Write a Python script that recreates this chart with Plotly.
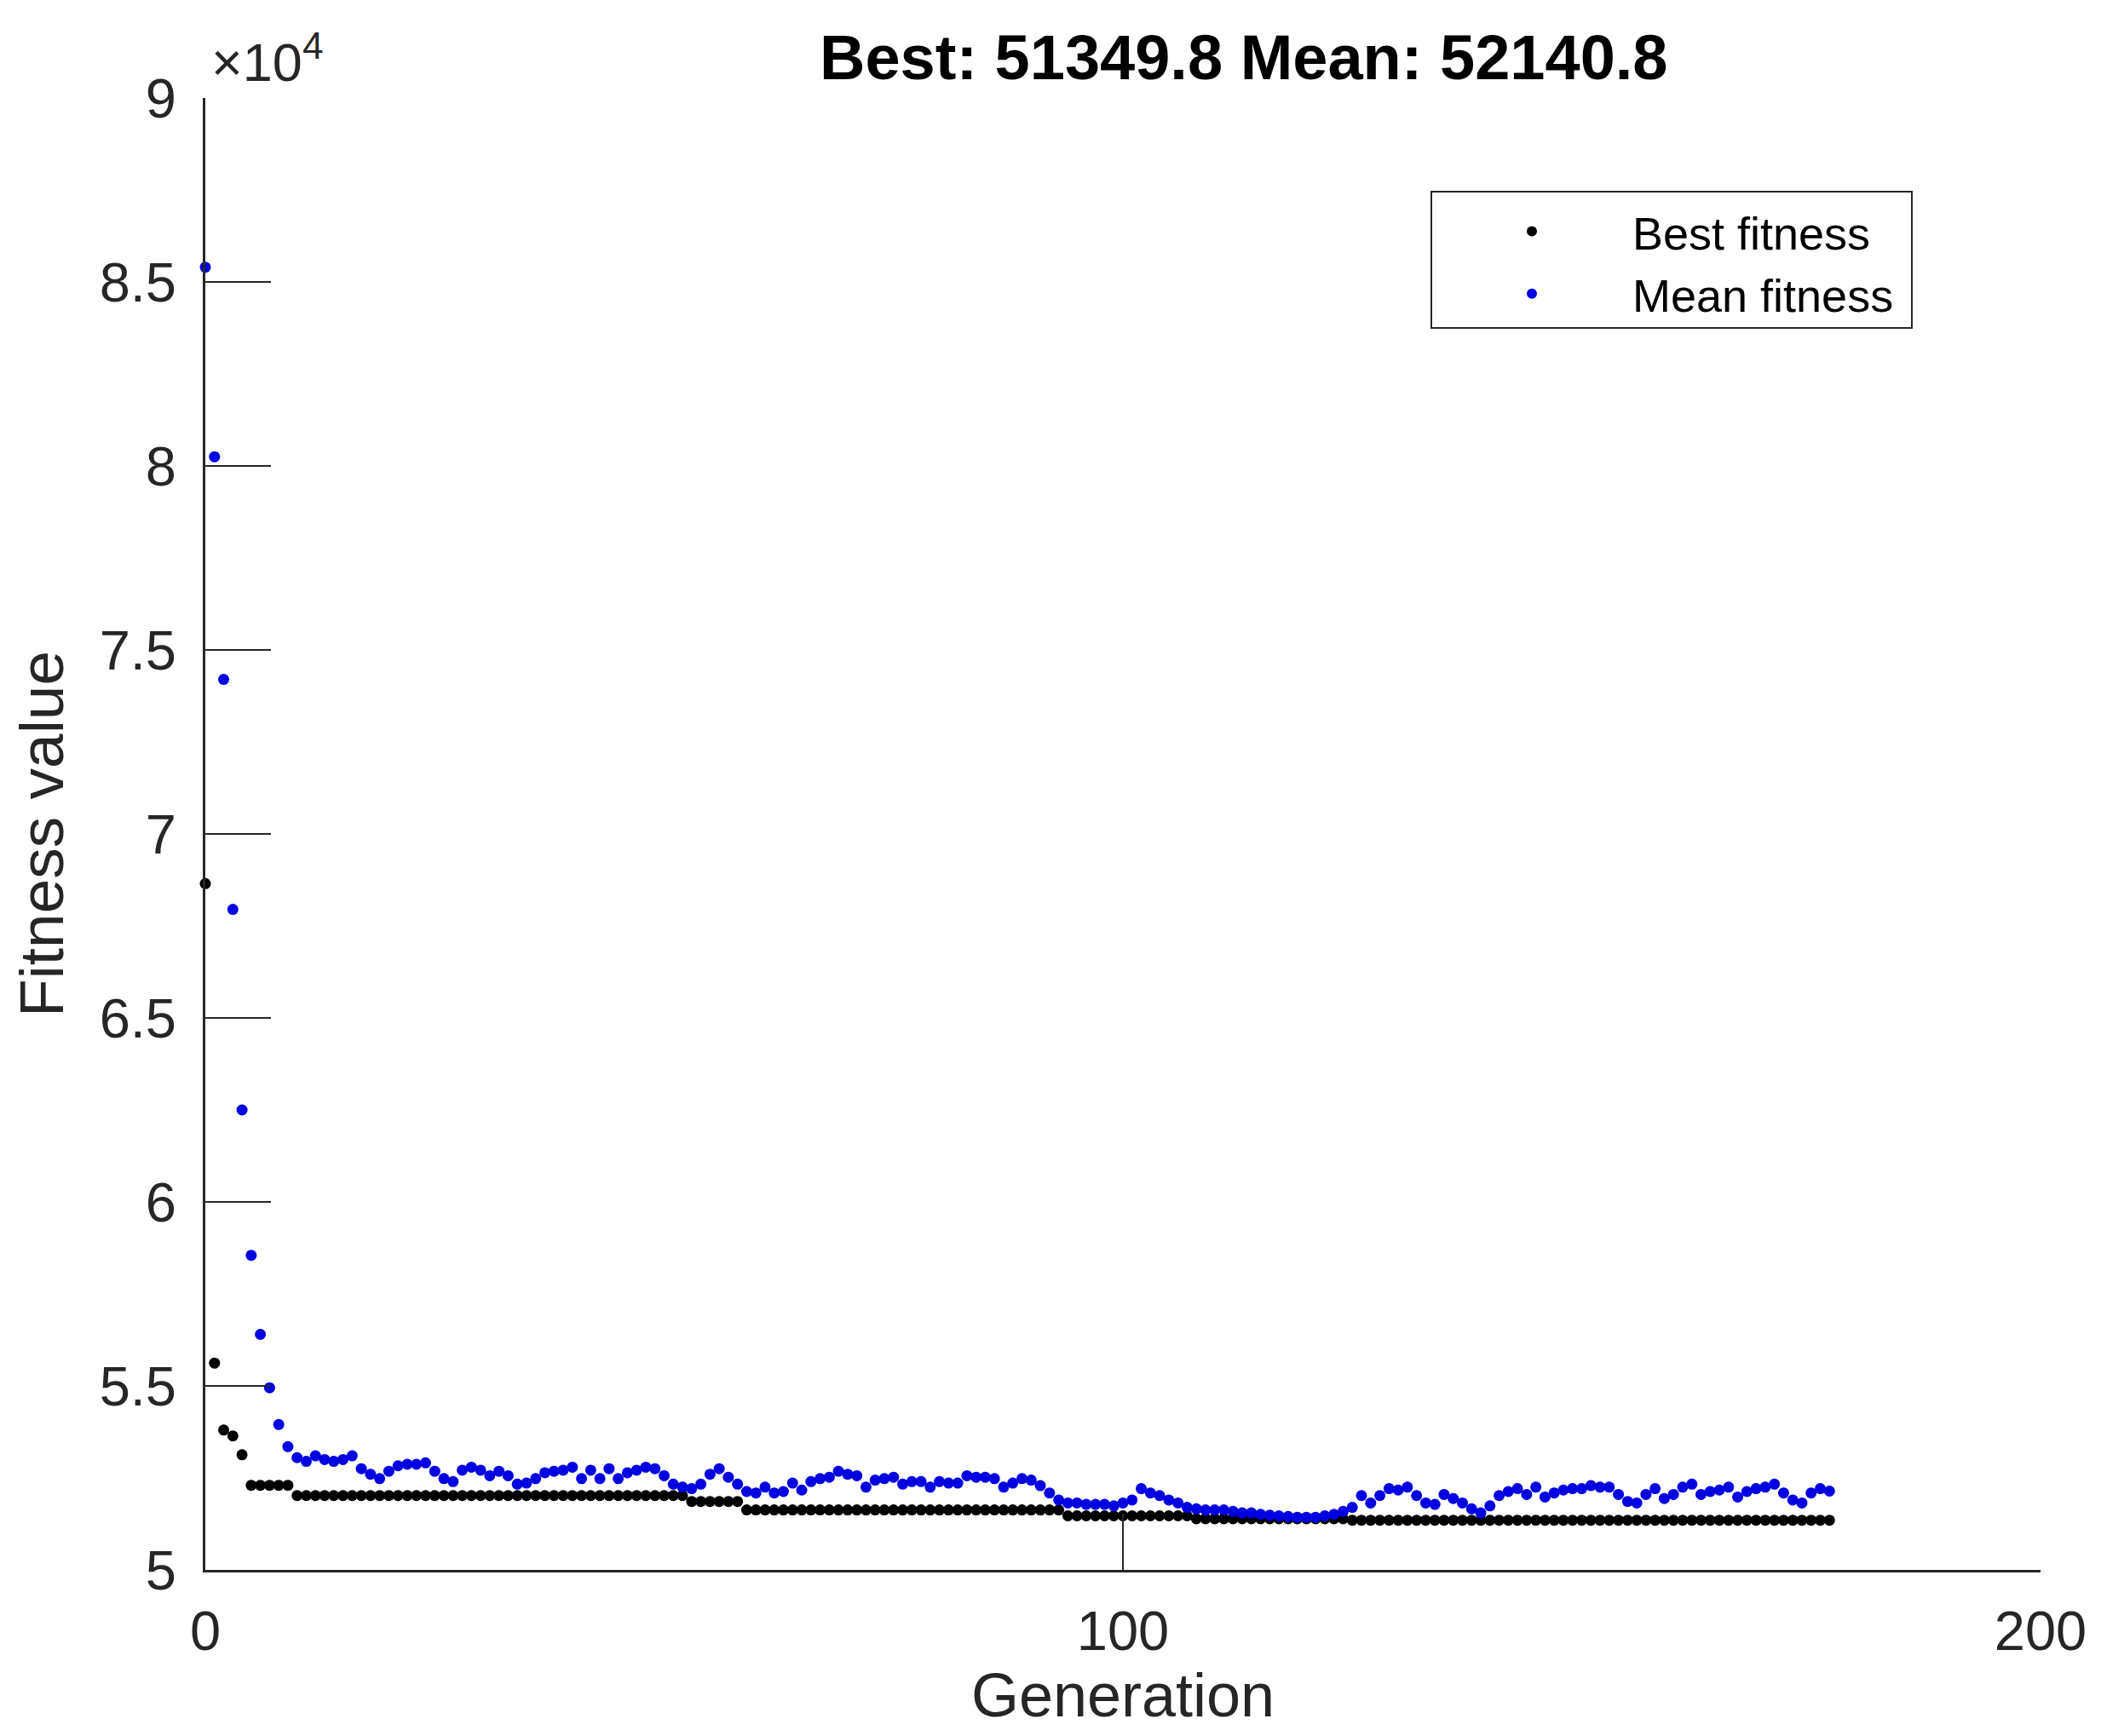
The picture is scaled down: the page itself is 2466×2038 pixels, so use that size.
import plotly.graph_objects as go

generation = list(range(178))

best_fitness = [
    68650, 55620, 53800, 53640, 53130,
    52300, 52300, 52300, 52300, 52300,
    52020, 52020, 52020, 52020, 52020, 52020, 52020, 52020, 52020, 52020,
    52020, 52020, 52020, 52020, 52020, 52020, 52020, 52020, 52020, 52020,
    52020, 52020, 52020, 52020, 52020, 52020, 52020, 52020, 52020, 52020,
    52020, 52020, 52020, 52020, 52020, 52020, 52020, 52020, 52020, 52020,
    52020, 52020, 52020,
    51860, 51860, 51860, 51860, 51860, 51860,
    51630, 51630, 51630, 51630, 51630, 51630, 51630, 51630, 51630, 51630,
    51630, 51630, 51630, 51630, 51630, 51630, 51630, 51630, 51630, 51630,
    51630, 51630, 51630, 51630, 51630, 51630, 51630, 51630, 51630, 51630,
    51630, 51630, 51630, 51630, 51630,
    51470, 51470, 51470, 51470, 51470, 51470, 51470, 51470, 51470, 51470,
    51470, 51470, 51470, 51470,
    51390, 51390, 51390, 51390, 51390, 51390, 51390, 51390, 51390, 51390,
    51390, 51390, 51390, 51390, 51390, 51390, 51390,
    51349.8, 51349.8, 51349.8, 51349.8, 51349.8, 51349.8, 51349.8, 51349.8, 51349.8, 51349.8,
    51349.8, 51349.8, 51349.8, 51349.8, 51349.8, 51349.8, 51349.8, 51349.8, 51349.8, 51349.8,
    51349.8, 51349.8, 51349.8, 51349.8, 51349.8, 51349.8, 51349.8, 51349.8, 51349.8, 51349.8,
    51349.8, 51349.8, 51349.8, 51349.8, 51349.8, 51349.8, 51349.8, 51349.8, 51349.8, 51349.8,
    51349.8, 51349.8, 51349.8, 51349.8, 51349.8, 51349.8, 51349.8, 51349.8, 51349.8, 51349.8,
    51349.8, 51349.8, 51349.8,
]

mean_fitness = [
    85400, 80250, 74200, 67950, 62500, 58550, 56400, 54950, 53950, 53350,
    53050, 52950, 53100, 53000, 52950, 53000, 53100, 52750, 52600, 52480,
    52680, 52830, 52870, 52870, 52910, 52680, 52480, 52400, 52710, 52790,
    52710, 52560, 52680, 52560, 52330, 52360, 52480, 52640, 52680, 52710,
    52790, 52480, 52710, 52480, 52750, 52480, 52640, 52710, 52790, 52750,
    52560, 52330, 52250, 52210, 52330, 52600, 52750, 52520, 52330, 52130,
    52090, 52250, 52090, 52130, 52360, 52170, 52400, 52480, 52520, 52680,
    52600, 52560, 52250, 52440, 52480, 52520, 52330, 52400, 52400, 52250,
    52400, 52360, 52360, 52560, 52520, 52520, 52480, 52250, 52360, 52480,
    52440, 52290, 52090, 51900, 51820, 51820, 51780, 51780, 51780, 51740,
    51820, 51900, 52210, 52090, 52020, 51900, 51820, 51700, 51660, 51630,
    51630, 51630, 51590, 51550, 51550, 51510, 51490, 51470, 51450, 51430,
    51430, 51430, 51470, 51510, 51590, 51700, 52020, 51820, 52020, 52210,
    52170, 52250, 52020, 51820, 51780, 52050, 51940, 51820, 51660, 51550,
    51740, 52020, 52130, 52210, 52050, 52250, 51980, 52090, 52170, 52210,
    52210, 52290, 52250, 52250, 52050, 51860, 51820, 52050, 52210, 51940,
    52050, 52250, 52330, 52050, 52130, 52170, 52250, 51980, 52130, 52210,
    52250, 52330, 52090, 51900, 51820, 52090, 52210, 52140.8,
]

x_ticks = [0, 100, 200]
y_ticks = [50000, 55000, 60000, 65000, 70000, 75000, 80000, 85000, 90000]
y_tick_labels = ["5", "5.5", "6", "6.5", "7", "7.5", "8", "8.5", "9"]

title_text = "Best: 51349.8 Mean: 52140.8"

FONT = "Liberation Sans, Arial, Helvetica, sans-serif"
AXIS_COLOR = "#262626"

# page body has an 8px default margin; work in figure coordinates
OFF = 8
W, H = 2466 - 2 * OFF, 2038 - 2 * OFF
L = 241 - OFF
T = 115 - OFF
PW, PH = 2154, 1728
R = W - L - PW
B = H - T - PH


def px_x(x_full):
    return (x_full - OFF - L) / PW


def px_y(y_full):
    return (T + PH - (y_full - OFF)) / PH


fig = go.Figure()
fig.add_trace(go.Scatter(
    x=generation, y=best_fitness, mode="markers", name="Best fitness",
    marker=dict(color="#000000", size=13), cliponaxis=False,
))
fig.add_trace(go.Scatter(
    x=generation, y=mean_fitness, mode="markers", name="Mean fitness",
    marker=dict(color="#0000e0", size=13), cliponaxis=False,
))

fig.update_layout(
    width=W, height=H,
    margin=dict(l=L, r=R, t=T, b=B, autoexpand=False),
    paper_bgcolor="white", plot_bgcolor="white",
    font=dict(family=FONT, color=AXIS_COLOR, size=65),
    showlegend=True,
    legend=dict(
        x=px_x(1680), y=px_y(230),
        xanchor="left", yanchor="top",
        bgcolor="rgba(0,0,0,0)", borderwidth=0,
        font=dict(family=FONT, size=54, color="#000000"),
        itemwidth=226, itemsizing="constant",
    ),
    shapes=[
        dict(type="rect", xref="paper", yref="paper",
             x0=px_x(1680), x1=px_x(2244), y0=px_y(385), y1=px_y(225),
             line=dict(color=AXIS_COLOR, width=2), fillcolor="white", layer="above"),
    ],
    xaxis=dict(
        range=[0, 200], tickvals=x_ticks, ticks="inside", ticklen=66, tickwidth=2,
        tickcolor=AXIS_COLOR, showline=True, linecolor=AXIS_COLOR, linewidth=3,
        showgrid=False, zeroline=False, mirror=False, automargin=False,
        tickfont=dict(size=65, family=FONT, color=AXIS_COLOR),
        ticklabelstandoff=13,
        title=dict(text="Generation", font=dict(size=72, family=FONT, color=AXIS_COLOR), standoff=70),
    ),
    yaxis=dict(
        range=[50000, 90000], tickvals=y_ticks, ticktext=y_tick_labels,
        ticks="inside", ticklen=77, tickwidth=2,
        tickcolor=AXIS_COLOR, showline=True, linecolor=AXIS_COLOR, linewidth=3,
        showgrid=False, zeroline=False, mirror=False, automargin=False,
        tickfont=dict(size=65, family=FONT, color=AXIS_COLOR),
        ticklabelstandoff=18,
        title=dict(text="Fitness value", font=dict(size=73, family=FONT, color=AXIS_COLOR), standoff=20),
    ),
    annotations=[
        dict(text="<b>" + title_text + "</b>", xref="paper", yref="paper",
             x=px_x(1460), y=px_y(67),
             xanchor="center", yanchor="middle", showarrow=False,
             font=dict(size=74, family=FONT, color="#000000")),
        dict(text="×10<sup>4</sup>", xref="paper", yref="paper",
             x=px_x(246), y=px_y(110),
             xanchor="left", yanchor="bottom", showarrow=False,
             font=dict(size=63, family=FONT, color=AXIS_COLOR)),
    ],
)

fig.write_html("out.html")
